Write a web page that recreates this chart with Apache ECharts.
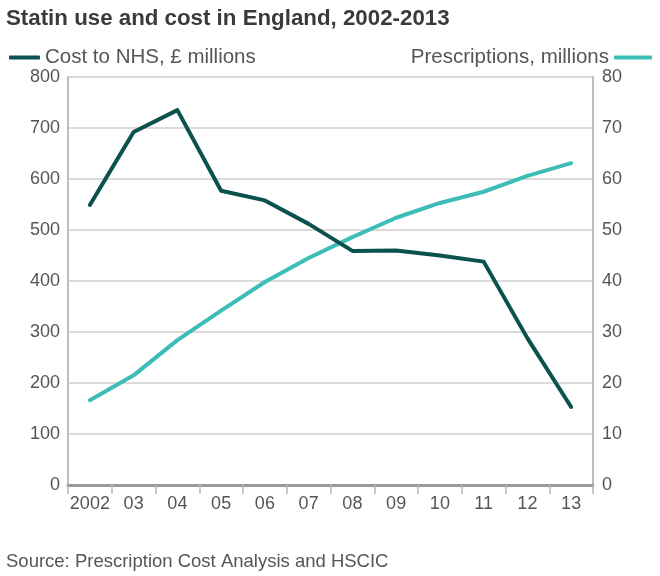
<!DOCTYPE html>
<html>
<head>
<meta charset="utf-8">
<script src="https://cdn.jsdelivr.net/npm/echarts@6/dist/echarts.min.js"></script>
<style>
html,body{margin:0;padding:0;background:#fff;}
#chart{width:660px;height:576px;}
</style>
</head>
<body>
<div id="chart"></div>
<script>
var years = ['2002','03','04','05','06','07','08','09','10','11','12','13'];
var costNHS = [549, 692, 735, 577, 558, 512, 459, 460, 450, 438, 288, 153];
var prescriptions = [16.6, 21.5, 28.4, 34.2, 39.8, 44.5, 48.6, 52.4, 55.3, 57.5, 60.6, 63.1];
var costName = 'Cost to NHS, £ millions';
var rxName = 'Prescriptions, millions';
var titleText = 'Statin use and cost in England, 2002-2013';
var sourceText = 'Source: Prescription Cost Analysis and HSCIC';

var darkCol = '#0b514d';
var lightCol = '#3cbdb8';
var textCol = '#555555';
var font = '"Liberation Sans", Arial, sans-serif';

var chart = echarts.init(document.getElementById('chart'), null, {renderer: 'canvas'});
chart.setOption({
  backgroundColor: '#ffffff',
  animation: false,
  textStyle: {fontFamily: font},
  title: [
    {text: titleText, left: 1, top: 3,
     textStyle: {fontFamily: font, fontSize: 22.3, fontWeight: 'bold', color: '#3a3a3a'}},
    {text: sourceText, left: 1, top: 547,
     textStyle: {fontFamily: font, fontSize: 18.5, fontWeight: 'normal', color: textCol}}
  ],
  legend: [
    {data: [costName], left: 4, top: 42, icon: 'roundRect', itemWidth: 31, itemHeight: 4,
     itemGap: 0, textStyle: {fontFamily: font, fontSize: 20.5, color: textCol}},
    {data: [rxName], right: 3, top: 42, align: 'right', icon: 'roundRect', itemWidth: 38, itemHeight: 4,
     textStyle: {fontFamily: font, fontSize: 20.5, color: textCol}}
  ],
  grid: {left: 68, right: 67, top: 77, bottom: 91, containLabel: false},
  xAxis: {
    type: 'category', data: years, boundaryGap: true,
    axisLine: {lineStyle: {color: '#9a9a9a', width: 3}},
    axisTick: {show: true, length: 9, interval: 0, alignWithLabel: false, lineStyle: {color: '#b5b5b5', width: 1.5}},
    axisLabel: {color: textCol, fontSize: 18, margin: 10, interval: 0, fontFamily: font}
  },
  yAxis: [
    {type: 'value', min: 0, max: 800, interval: 100, position: 'left',
     axisLine: {show: true, lineStyle: {color: '#bdbdbd', width: 2}},
     axisTick: {show: false},
     splitLine: {lineStyle: {color: '#cfcfcf', width: 1.5}},
     axisLabel: {color: textCol, fontSize: 18, margin: 8, fontFamily: font}},
    {type: 'value', min: 0, max: 80, interval: 10, position: 'right',
     axisLine: {show: true, lineStyle: {color: '#bdbdbd', width: 2}},
     axisTick: {show: false},
     splitLine: {show: false},
     axisLabel: {color: textCol, fontSize: 18, margin: 9, fontFamily: font}}
  ],
  series: [
    {name: costName, type: 'line', yAxisIndex: 0, data: costNHS, showSymbol: false, symbol: 'none',
     lineStyle: {color: darkCol, width: 4, cap: 'round', join: 'round'}, itemStyle: {color: darkCol}, z: 3},
    {name: rxName, type: 'line', yAxisIndex: 1, data: prescriptions, showSymbol: false, symbol: 'none',
     lineStyle: {color: lightCol, width: 4, cap: 'round', join: 'round'}, itemStyle: {color: lightCol}, z: 2}
  ]
});
</script>
</body>
</html>
